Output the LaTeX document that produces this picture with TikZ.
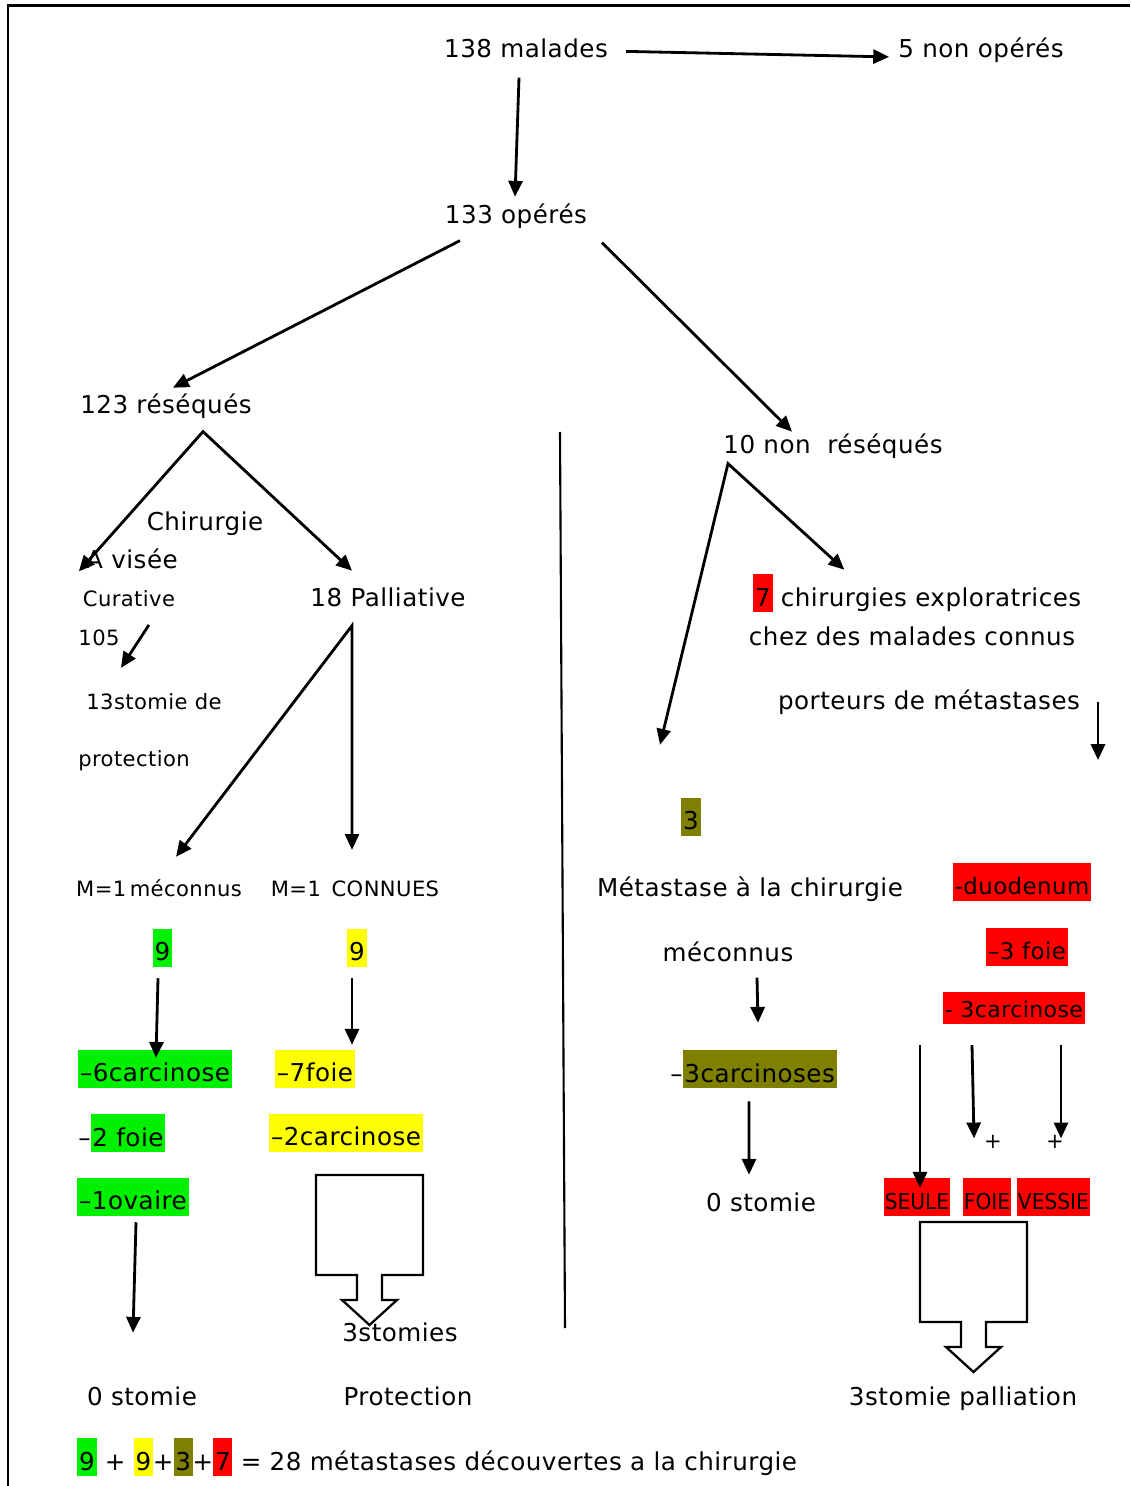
\documentclass[tikz,border=0pt]{standalone}
\usepackage{fontspec}
\setmainfont{DejaVu Sans}[LetterSpace=2]
\newfontfamily\etroit{DejaVu Sans}[FakeStretch=0.92]
\usepackage{tikz}
\usetikzlibrary{arrows.meta}
\usetikzlibrary{positioning}
\definecolor{vert}{RGB}{0,240,0}
\definecolor{jaune}{RGB}{255,255,0}
\definecolor{kaki}{RGB}{128,128,0}
\definecolor{rouge}{RGB}{255,0,0}
\newcommand{\hl}[2]{{\setlength{\fboxsep}{0pt}\colorbox{#1}{\rule[-3.5pt]{0pt}{21.5pt}\kern1pt#2\kern1pt}}}
\newcommand{\grossefleche}{\draw[line width=1.3pt, fill=white] (0,0) -- (107,0) -- (107,100) -- (66,100) -- (66,125) -- (81,125) -- (53.5,150) -- (26,125) -- (41,125) -- (41,100) -- (0,100) -- cycle;}
\tikzset{
	fleche/.style={-{Triangle[length=9pt,width=8pt]}, line width=1.6pt},
	vfleche/.style={{Triangle[length=9pt,width=8pt]}-{Triangle[length=9pt,width=8pt]}, line width=1.6pt},
	texte/.style={font=\fontsize{14}{17}\selectfont, inner sep=0pt, text height=10.5pt, text depth=3pt, anchor=base},
	petit/.style={font=\fontsize{12}{14}\selectfont, inner sep=0pt, text height=9pt, text depth=2.6pt, anchor=base},
	boite/.style={font=\fontsize{14}{17}\selectfont, inner xsep=1pt, inner ysep=0pt, text height=18pt, text depth=3.5pt},
	boiterouge/.style={boite, fill=rouge, inner xsep=0.5pt, font=\etroit\fontsize{12.5}{15}\selectfont}
}
\begin{document}
\begin{tikzpicture}[x=0.02cm, y=-0.02cm]
	\useasboundingbox (0,0) rectangle (1130,1486);

	\draw[line width=1.7pt] (8,1486) -- (8,6) -- (1130,6);
	\draw[line width=1.2pt] (560,432) -- (565,1328);

	\begin{scope}[shift={(316,1175)}]
		\grossefleche
	\end{scope}

	\begin{scope}[shift={(920,1222)}]
		\grossefleche
	\end{scope}

	% haut
	\node[texte] (malades) at (526,58) {138 malades};
	\node[texte] (nonoperes) at (981,58) {5 non opérés};
	\node[texte] (operes) at (516,224) {133 opérés};
	\node[texte] (reseques) at (166,414) {123 réséqués};
	\node[texte] (nonreseques) at (833,453) {10 non \ réséqués};

	% gauche
	\node[texte] (chirurgie) at (205,530) {Chirurgie};
	\node[texte] (visee) at (132,568) {A visée};
	\node[petit] (curative) at (129,606) {Curative};
	\node[petit] (cent) at (99,645) {105};
	\node[petit] (stomiede) at (154,709) {13stomie de};
	\node[petit] (protectionA) at (134,766) {protection};
	\node[texte] (palliative) at (388,606) {18 Palliative};
	\node[petit] (meconnusG) at (159,896) {M=1\,méconnus};
	\node[petit] (connues) at (355,896) {M=1 \,CONNUES};
	\node[boite, fill=vert] (neufV) at (162.5,948) {9};
	\node[boite, fill=jaune] (neufJ) at (357,948) {9};
	\node[boite, fill=vert] (carcV) at (155,1069) {–6carcinose};
	\node[texte, anchor=base west] (foieV) at (78,1146) {–\hl{vert}{2 foie}};
	\node[boite, fill=vert] (ovaire) at (133,1197) {–1ovaire};
	\node[boite, fill=jaune] (foieJ) at (315,1069) {–7foie};
	\node[boite, fill=jaune] (carcJ) at (346,1133) {–2carcinose};
	\node[texte] (stomies) at (400,1341) {3stomies};
	\node[texte] (zeroG) at (142,1405) {0 stomie};
	\node[texte] (protectionB) at (408,1405) {Protection};

	% droite
	\node[texte, anchor=base west] (explor) at (753,606) {\hl{rouge}{7} chirurgies exploratrices};
	\node[texte] (chez) at (912,645) {chez des malades connus};
	\node[texte] (porteurs) at (929,709) {porteurs de métastases};
	\coordinate (porteursbas) at (1098,760);
	\node[boite, fill=kaki] (troisK) at (691,817) {3};
	\node[texte] (metastase) at (750,896) {Métastase à la chirurgie};
	\node[texte] (meconnusD) at (728,961) {méconnus};
	\node[texte, anchor=base west] (carcK) at (670,1082) {–\hl{kaki}{3carcinoses}};
	\node[texte] (zeroD) at (761,1211) {0 stomie};
	\node[boite, fill=rouge, font=\fontsize{13}{15}\selectfont] (duodenum) at (1022,882) {-duodenum};
	\node[boite, fill=rouge, font=\fontsize{13}{15}\selectfont] (foieR) at (1027,947) {–3 foie};
	\node[boite, fill=rouge, font=\fontsize{12.5}{15}\selectfont, text height=14.5pt] (carcR) at (1014,1008) {- 3carcinose};
	\node[petit] (plusA) at (993,1148) {+};
	\node[petit] (plusB) at (1055,1148) {+};
	\node[boiterouge] (seule) at (917,1197) {SEULE};
	\node[boiterouge, right=7pt of seule] (foieS) {FOIE};
	\node[boiterouge, right=3pt of foieS] (vessie) {VESSIE};
	\node[texte] (palliation) at (963,1405) {3stomie palliation};

	\node[texte, anchor=base west] (somme) at (77,1470) {\hl{vert}{9} + \hl{jaune}{9}+\hl{kaki}{3}+\hl{rouge}{7} = 28 métastases découvertes a la chirurgie};

	% fleches
	\draw[fleche] ([shift={(18,0)}]malades.east) -- ([shift={(-9,5.5)}]nonoperes.west);
	\draw[fleche] ([shift={(-7,14)}]malades.south) -- ([shift={(-1,-8.5)}]operes.north);
	\draw[fleche] ([shift={(-56,11)}]operes.south) -- ([shift={(7,-7.5)}]reseques.north);
	\draw[fleche] ([shift={(86,13)}]operes.south) -- ([shift={(-41,-2.5)}]nonreseques.north);

	\draw[vfleche] ([shift={(-7,10)}]visee.west) -- ([shift={(37,12)}]reseques.south) -- ([shift={(-36,-16.5)}]palliative.north);
	\draw[fleche] ([shift={(29,-14.4)}]cent.east) -- ([shift={(-33,-25)}]stomiede.north);
	\draw[vfleche] ([shift={(17,-23)}]meconnusG.north) -- ([shift={(-36,14)}]palliative.south) -- ([shift={(-3,-30)}]connues.north);
	\draw[fleche] ([shift={(-4.5,11)}]neufV.south) -- ([shift={(1,8)}]carcV.north);
	\draw[fleche] ([shift={(-5,11)}]neufJ.south) -- ([shift={(37,-5)}]foieJ.north);
	\draw[fleche] ([shift={(3,6)}]ovaire.south) -- ([shift={(-9,-53.5)}]zeroG.north);

	\draw[vfleche] ([shift={(-31,-53)}]troisK.north) -- ([shift={(-105,5)}]nonreseques.south) -- ([shift={(-73,-17.5)}]explor.north);
	\draw[fleche] (porteursbas |- porteurs.east) -- (porteursbas);
	\draw[fleche] ([shift={(29,11)}]meconnusD.south) -- ([shift={(4.5,-40.5)}]carcK.north);
	\draw[fleche] ([shift={(-4.5,13.7)}]carcK.south) -- ([shift={(-12,-17.5)}]zeroD.north);
	\draw[fleche] ([shift={(-94,21)}]carcR.south) -- ([shift={(3,10)}]seule.north);
	\draw[fleche] ([shift={(-42,21)}]carcR.south) -- ([shift={(-19,-4)}]plusA.center);
	\draw[fleche] ([shift={(47,21)}]carcR.south) -- ([shift={(6,-4)}]plusB.center);

\end{tikzpicture}
\end{document}
